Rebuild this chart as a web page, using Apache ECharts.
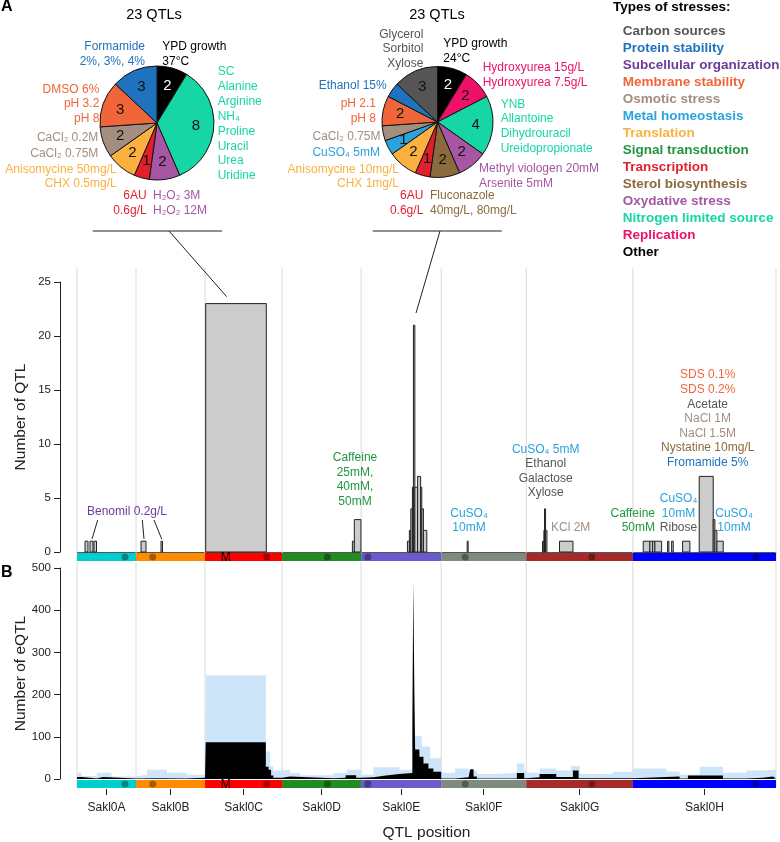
<!DOCTYPE html>
<html><head><meta charset="utf-8">
<script src="https://cdn.jsdelivr.net/npm/echarts@6/dist/echarts.min.js"></script>
<style>html,body{margin:0;padding:0;background:#fff}#c{width:780px;height:842px}</style>
</head><body><div id="c"></div><script>
// ---------------- DATA ----------------
const chromNames = ['Sakl0A','Sakl0B','Sakl0C','Sakl0D','Sakl0E','Sakl0F','Sakl0G','Sakl0H'];
const chromLengths = [956,1118,1248,1281,1297,1378,1728,2318]; // kb
const centromeres = [778,271,1000,734,109,389,1064,1993];     // kb, local
const matingLocus = [2, 335];                                 // chrom index, kb
// QTL histogram: [chrom, startKb, endKb, count]
const qtlBins = [
 [0,130,178,1],[0,211,259,1],[0,275,316,1],
 [1,81,162,1],[1,405,429,1],
 [2,11,993,23],
 [3,1139,1171,1],[3,1171,1278,3],
 [4,750,782,1],[4,782,805,2],[4,805,831,4],[4,831,847,6],[4,847,870,21],[4,870,915,6],[4,915,964,7],[4,964,983,6],[4,983,1009,4],[4,1009,1064,2],
 [5,421,437,1],
 [6,264,286,1],[6,286,296,2],[6,296,313,4],[6,313,335,2],[6,539,757,1],
 [7,167,275,1],[7,275,319,1],[7,319,356,1],[7,356,465,1],[7,562,583,1],[7,627,653,1],[7,805,923,1],[7,1074,1301,7],[7,1301,1328,3],[7,1328,1361,2],[7,1361,1463,1]
];
// eQTL counts (light series) : [chrom, startKb, endKb, count]
const eqtlLight = [
 [0,0,75,15],[0,75,320,7],[0,320,560,15],[0,560,956,6],
 [1,0,178,10],[1,178,502,22],[1,502,826,15],[1,826,1118,10],
 [2,0,11,5],[2,11,985,246],[2,985,1053,65],[2,1053,1107,30],[2,1107,1248,20],
 [3,0,130,22],[3,130,292,14],[3,292,832,9],[3,832,1048,14],[3,1048,1281,22],
 [4,0,200,10],[4,200,620,28],[4,620,830,22],[4,830,845,150],[4,845,862,483],[4,862,875,250],[4,875,983,102],[4,983,1118,77],[4,1118,1297,49],
 [5,0,227,15],[5,227,443,25],[5,443,578,20],[5,578,875,12],[5,875,1226,15],[5,1226,1345,37],[5,1345,1378,20],
 [6,0,216,15],[6,216,486,25],[6,486,729,20],[6,729,864,31],[6,864,1404,12],[6,1404,1728,17],
 [7,0,540,25],[7,540,756,18],[7,756,1080,10],[7,1080,1458,29],[7,1458,1836,15],[7,1836,2106,20],[7,2106,2318,22]
];
// eQTL counts (dark series)
const eqtlDark = [
 [0,0,75,5],[0,75,320,1],[0,320,420,5],[0,420,956,1],
 [1,0,400,2],[1,400,800,1],[1,800,1118,3],
 [2,0,11,2],[2,11,985,87],[2,985,1030,29],[2,1030,1070,22],[2,1070,1107,8],[2,1107,1248,3],
 [3,0,130,6],[3,130,832,2],[3,832,1030,3],[3,1030,1200,9],[3,1200,1281,3],
 [4,0,200,4],[4,200,400,8],[4,400,620,12],[4,620,830,14],[4,830,845,120],[4,845,862,464],[4,862,875,200],[4,875,944,70],[4,944,1010,53],[4,1010,1090,37],[4,1090,1171,25],[4,1171,1297,17],
 [5,0,227,1],[5,227,443,4],[5,443,470,6],[5,470,524,23],[5,524,578,6],[5,578,1226,1],[5,1226,1345,14],[5,1345,1378,2],
 [6,0,216,4],[6,216,486,12],[6,486,756,5],[6,756,848,20],[6,848,1728,2],
 [7,0,756,6],[7,756,891,1],[7,891,1458,8],[7,1458,1836,1],[7,1836,2106,3],[7,2106,2268,6],[7,2268,2318,2]
];
const yTicksQTL = [0,5,10,15,20,25];
const yTicksEQTL = [0,100,200,300,400,500];
const stressTypes = ['Carbon sources','Protein stability','Subcellular organization','Membrane stability','Osmotic stress','Metal homeostasis','Translation','Signal transduction','Transcription','Sterol biosynthesis','Oxydative stress','Nitrogen limited source','Replication','Other'];
const pie1Categories = ['Other','Nitrogen limited source','Oxydative stress','Transcription','Translation','Osmotic stress','Membrane stability','Protein stability'];
const pie1Values = [2,8,2,1,2,2,3,3];
const pie2Categories = ['Other','Replication','Nitrogen limited source','Oxydative stress','Sterol biosynthesis','Transcription','Translation','Metal homeostasis','Osmotic stress','Membrane stability','Protein stability','Carbon sources'];
const pie2Values = [2,2,4,2,2,1,2,1,1,2,1,3];

// ---------------- STYLE ----------------
const FONT = "'Liberation Sans', Arial, Helvetica, sans-serif";
const stressColors = ['#555555','#1f72bd','#6a3d9a','#f0663a','#a38e80','#2aa3dd','#fbb040','#21973f','#e41f2d','#8b6b3d','#a656a3','#17d6a5','#ef1068','#000000'];
const colorOf = n => stressColors[stressTypes.indexOf(n)];
const chromColors = ['#00cdcd','#ff8c00','#ff0000','#228b22','#6a5acd','#7f8b7f','#a52a2a','#0000ff'];
const C = colorOf;

const offsets = [];
chromLengths.reduce((a, l, i) => { offsets[i] = a; return a + l; }, 0);
const total = chromLengths.reduce((a, b) => a + b, 0);
const centers = chromLengths.map((l, i) => offsets[i] + l / 2);
const boundaries = offsets.concat([total]);

function stepData(segs) {
  const out = [];
  segs.forEach(s => {
    const g = offsets[s[0]];
    out.push([g + s[1], s[3]], [g + s[2], s[3]]);
  });
  return out;
}
const qtlData = qtlBins.map(b => [offsets[b[0]] + b[1], offsets[b[0]] + b[2], b[3]]);
const chromData = chromLengths.map((l, i) => [offsets[i], offsets[i] + l, i]);

function T(x, y, text, color, align, size, weight) {
  size = size || 12;
  return {type:'text', x:x, y:y, silent:true, z:100,
    style:{text:text, fill:color, font:(weight||'normal')+' '+size+'px '+FONT,
      textAlign:align||'center', align:align||'center', textVerticalAlign:'middle', verticalAlign:'middle'}};
}
function Blk(x, y0, lh, lines, colors, align, size) {
  return lines.map((l, i) => T(x, y0 + i * lh, l, Array.isArray(colors) ? colors[i] : colors, align, size));
}
function L(x1, y1, x2, y2) {
  return {type:'line', silent:true, z:100, shape:{x1:x1,y1:y1,x2:x2,y2:y2}, style:{stroke:'#222', lineWidth:1}};
}

const graphics = [].concat(
  [T(1, 7, 'A', '#000', 'left', 16, 'bold'), T(1, 573, 'B', '#000', 'left', 16, 'bold')],
  [T(154, 15, '23 QTLs', '#000', 'center', 14.5), T(437, 15, '23 QTLs', '#000', 'center', 14.5)],
  // left pie labels
  Blk(145, 46.7, 14.5, ['Formamide','2%, 3%, 4%'], C('Protein stability'), 'right'),
  Blk(162.3, 46.7, 14.5, ['YPD growth','37°C'], '#000', 'left'),
  Blk(217.7, 71.7, 14.9, ['SC','Alanine','Arginine','NH₄','Proline','Uracil','Urea','Uridine'], C('Nitrogen limited source'), 'left'),
  Blk(99.3, 89.3, 14.7, ['DMSO 6%','pH 3.2','pH 8'], C('Membrane stability'), 'right'),
  Blk(98.3, 137.7, 15.6, ['CaCl₂ 0.2M','CaCl₂ 0.75M'], C('Osmotic stress'), 'right'),
  Blk(116.7, 169.3, 14.4, ['Anisomycine 50mg/L','CHX 0.5mg/L'], C('Translation'), 'right'),
  Blk(146.7, 195.7, 15.3, ['6AU','0.6g/L'], C('Transcription'), 'right'),
  Blk(153, 195.7, 15.3, ['H₂O₂ 3M','H₂O₂ 12M'], C('Oxydative stress'), 'left'),
  // right pie labels
  Blk(423.3, 34.3, 14.7, ['Glycerol','Sorbitol','Xylose'], C('Carbon sources'), 'right'),
  Blk(443.3, 43.7, 15.3, ['YPD growth','24°C'], '#000', 'left'),
  Blk(482.7, 67.7, 14.6, ['Hydroxyurea 15g/L','Hydroxyurea 7.5g/L'], C('Replication'), 'left'),
  Blk(500.7, 104.3, 14.7, ['YNB','Allantoine','Dihydrouracil','Ureidopropionate'], C('Nitrogen limited source'), 'left'),
  Blk(479, 168.3, 15, ['Methyl viologen 20mM','Arsenite 5mM'], C('Oxydative stress'), 'left'),
  Blk(430, 195.7, 15.3, ['Fluconazole','40mg/L, 80mg/L'], C('Sterol biosynthesis'), 'left'),
  Blk(423.3, 195.7, 15.3, ['6AU','0.6g/L'], C('Transcription'), 'right'),
  Blk(399, 170, 13.8, ['Anisomycine 10mg/L','CHX 1mg/L'], C('Translation'), 'right'),
  [T(380, 152.7, 'CuSO₄ 5mM', C('Metal homeostasis'), 'right'),
   T(380.5, 136.7, 'CaCl₂ 0.75M', C('Osmotic stress'), 'right'),
   T(386.7, 85.7, 'Ethanol 15%', C('Protein stability'), 'right')],
  Blk(376, 104, 14.3, ['pH 2.1','pH 8'], C('Membrane stability'), 'right'),
  // pie connectors
  [L(92.7,231,222,231), L(169,231,226.7,296.7), L(372.7,231,501.7,231), L(440,231,416,313)],
  // legend
  [T(613, 7.5, 'Types of stresses:', '#000', 'left', 13.5, 'bold')],
  stressTypes.map((s, i) => T(622.7, 31 + i * 17, s, stressColors[i], 'left', 13.5, 'bold')),
  // QTL annotations
  [T(127, 512, 'Benomil 0.2g/L', C('Subcellular organization'), 'center'),
   L(97.7,520,92,539), L(142.3,520,144,539), L(154,520,161.7,539)],
  Blk(355, 458, 14.5, ['Caffeine','25mM,','40mM,','50mM'], C('Signal transduction'), 'center'),
  Blk(469, 513.5, 14.5, ['CuSO₄','10mM'], C('Metal homeostasis'), 'center'),
  Blk(545.7, 449.3, 14.6, ['CuSO₄ 5mM','Ethanol','Galactose','Xylose'], [C('Metal homeostasis'),'#555','#555','#555'], 'center'),
  [T(570.7, 528, 'KCl 2M', C('Osmotic stress'), 'center')],
  Blk(655, 513.5, 14.5, ['Caffeine','50mM'], C('Signal transduction'), 'right'),
  Blk(678.5, 498.5, 14.7, ['CuSO₄','10mM','Ribose'], [C('Metal homeostasis'),C('Metal homeostasis'),'#555'], 'center'),
  Blk(734, 513.5, 14.5, ['CuSO₄','10mM'], C('Metal homeostasis'), 'center'),
  Blk(707.7, 375, 14.6, ['SDS 0.1%','SDS 0.2%','Acetate','NaCl 1M','NaCl 1.5M','Nystatine 10mg/L','Fromamide 5%'],
      [C('Membrane stability'),C('Membrane stability'),'#555',C('Osmotic stress'),C('Osmotic stress'),C('Sterol biosynthesis'),C('Protein stability')], 'center')
);

// ---------------- RENDERERS ----------------
function bandRender(params, api) {
  const i = api.value(2);
  const s = api.coord([api.value(0), 0]);
  const e = api.coord([api.value(1), 0]);
  const y = s[1] + 1;
  const ch = [{type:'rect', shape:{x:s[0], y:y, width:e[0]-s[0], height:8}, style:{fill:chromColors[i]}}];
  const c = api.coord([offsets[i] + centromeres[i], 0]);
  ch.push({type:'circle', shape:{cx:c[0], cy:y+4, r:3.5}, style:{fill:'rgba(0,0,0,0.35)'}});
  if (i === matingLocus[0]) {
    const m = api.coord([offsets[i] + matingLocus[1], 0]);
    ch.push({type:'text', x:m[0], y:y+4.5, style:{text:'M', fill:'#000', font:'12px '+FONT, align:'center', verticalAlign:'middle', textAlign:'center', textVerticalAlign:'middle'}});
  }
  return {type:'group', children:ch};
}
function vlineRender(topVal, extraTop) {
  return function(params, api) {
    const b = api.coord([api.value(0), 0]);
    const t = api.coord([api.value(0), topVal]);
    return {type:'line', shape:{x1:b[0], y1:t[1]-extraTop, x2:b[0], y2:b[1]+9}, style:{stroke:'#d9d9d9', lineWidth:1}};
  };
}
function qtlRender(params, api) {
  const p0 = api.coord([api.value(0), api.value(2)]);
  const p1 = api.coord([api.value(1), 0]);
  return {type:'rect', shape:{x:p0[0], y:p0[1], width:Math.max(p1[0]-p0[0],0.8), height:p1[1]-p0[1]},
    style:{fill:'#cccccc', stroke:'#222', lineWidth:1}};
}

function pieSeries(center, r, cats, vals) {
  const data = vals.map((v, i) => ({value:v, name:cats[i], itemStyle:{color:colorOf(cats[i])}}));
  return [
    {type:'pie', center:center, radius:[0, r], startAngle:90, clockwise:true, silent:true, animation:false,
      data:data, itemStyle:{borderColor:'#111', borderWidth:1}, label:{show:false}, labelLine:{show:false}, avoidLabelOverlap:false},
    {type:'pie', center:center, radius:[14, r + 1], startAngle:90, clockwise:true, silent:true, animation:false, z:5,
      data:vals.map((v, i) => ({value:v, name:cats[i], itemStyle:{color:'rgba(0,0,0,0)'},
        label:{color: cats[i] === 'Other' ? '#fff' : '#111'}})),
      itemStyle:{borderWidth:0}, avoidLabelOverlap:false, labelLine:{show:false},
      label:{show:true, position:'inside', formatter:'{c}', fontSize:15, fontFamily:FONT}}
  ];
}

const axisCommon = {
  axisLine:{show:true, onZero:false, lineStyle:{color:'#222', width:1}},
  axisTick:{show:true, length:6, lineStyle:{color:'#222'}},
  axisLabel:{fontSize:11.5, color:'#222', margin:9, fontFamily:FONT},
  splitLine:{show:false},
  nameLocation:'middle', nameGap:31, nameMoveOverlap:false,
  nameTextStyle:{fontSize:15.5, color:'#222', fontFamily:FONT}
};

const option = {
  animation:false,
  textStyle:{fontFamily:FONT},
  grid:[{left:77, width:699, top:282, height:270, outerBoundsMode:'none', containLabel:false},
        {left:77, width:699, top:568, height:211, outerBoundsMode:'none', containLabel:false}],
  xAxis:[
    {gridIndex:0, type:'value', min:0, max:total, axisLine:{show:true, onZero:false, lineStyle:{color:'#555', width:1.2}},
      axisTick:{show:false}, axisLabel:{show:false}, splitLine:{show:false}},
    {gridIndex:1, type:'value', min:0, max:total, offset:10, axisLine:{show:false, onZero:false},
      axisTick:{show:true, customValues:centers, length:6, lineStyle:{color:'#222'}},
      axisLabel:{customValues:centers, fontSize:12, color:'#222', margin:13, fontFamily:FONT,
        formatter:v => { const i = centers.findIndex(c => Math.abs(c - v) < 1e-6); return i >= 0 ? chromNames[i] : ''; }},
      splitLine:{show:false}, name:'QTL position', nameLocation:'middle', nameGap:36, nameMoveOverlap:false,
      nameTextStyle:{fontSize:15.5, color:'#222', fontFamily:FONT}}
  ],
  yAxis:[
    Object.assign({}, axisCommon, {gridIndex:0, type:'value', min:yTicksQTL[0], max:yTicksQTL[yTicksQTL.length-1], interval:5, offset:17, name:'Number of QTL'}),
    Object.assign({}, axisCommon, {gridIndex:1, type:'value', min:yTicksEQTL[0], max:yTicksEQTL[yTicksEQTL.length-1], interval:100, offset:17, name:'Number of eQTL'})
  ],
  series:[
    {type:'custom', xAxisIndex:0, yAxisIndex:0, data:boundaries.map(b => [b]), renderItem:vlineRender(25, 14), z:1, silent:true, encode:{x:0}},
    {type:'custom', xAxisIndex:1, yAxisIndex:1, data:boundaries.map(b => [b]), renderItem:vlineRender(500, 6), z:1, silent:true, encode:{x:0}},
    {type:'custom', xAxisIndex:0, yAxisIndex:0, data:qtlData, renderItem:qtlRender, z:3, silent:true, encode:{x:[0,1], y:2}},
    {type:'line', xAxisIndex:1, yAxisIndex:1, data:stepData(eqtlLight), showSymbol:false, symbol:'none', silent:true, z:2,
      lineStyle:{width:0}, areaStyle:{color:'#cde4f9', opacity:1}},
    {type:'line', xAxisIndex:1, yAxisIndex:1, data:stepData(eqtlDark), showSymbol:false, symbol:'none', silent:true, z:3,
      lineStyle:{width:0}, areaStyle:{color:'#000', opacity:1}},
    {type:'custom', xAxisIndex:0, yAxisIndex:0, data:chromData, renderItem:bandRender, z:4, silent:true, encode:{x:[0,1]}},
    {type:'custom', xAxisIndex:1, yAxisIndex:1, data:chromData, renderItem:bandRender, z:4, silent:true, encode:{x:[0,1]}}
  ].concat(pieSeries([157,123], 57, pie1Categories, pie1Values), pieSeries([437.5,122], 55.5, pie2Categories, pie2Values)),
  graphic:{elements:graphics}
};
const chart = echarts.init(document.getElementById('c'), null, {renderer:'canvas'});
chart.setOption(option);
</script></body></html>
